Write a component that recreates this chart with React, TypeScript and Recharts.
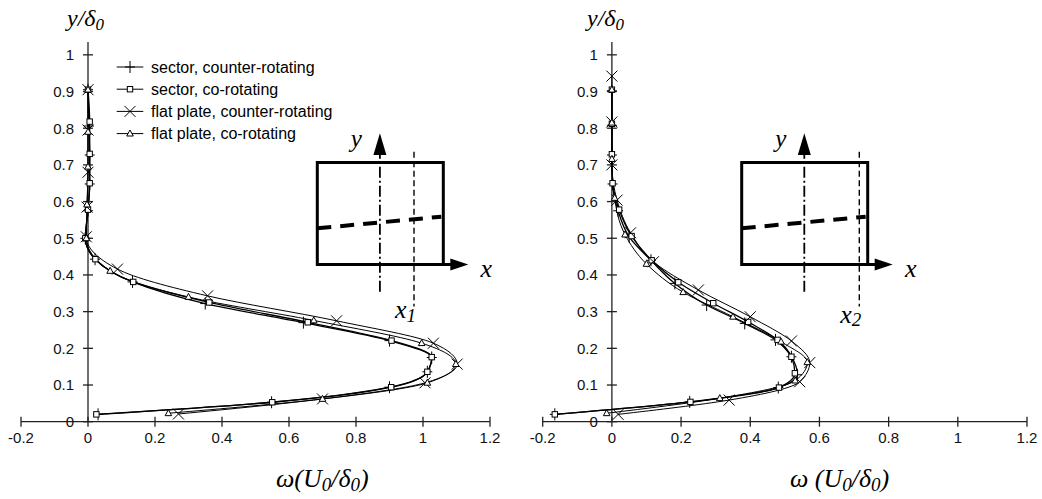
import React from "react";
import { LineChart, Line, XAxis, YAxis, ReferenceLine, ReferenceDot, Legend } from "recharts";

type Pt = { x: number; y: number };
type MarkerKind = "plus" | "square" | "cross" | "triangle";

const xTicks = [-0.2, 0, 0.2, 0.4, 0.6, 0.8, 1, 1.2];
const yTicks = [0, 0.1, 0.2, 0.3, 0.4, 0.5, 0.6, 0.7, 0.8, 0.9, 1];

const seriesNames = [
  "sector, counter-rotating",
  "sector, co-rotating",
  "flat plate, counter-rotating",
  "flat plate, co-rotating",
];
const seriesMarkers: MarkerKind[] = ["plus", "square", "cross", "triangle"];
const seriesWidths = [1.3, 1.3, 1, 1];

// station x1
const x1SectorCounter: Pt[] = [
  { x: 0.03, y: 0.02 }, { x: 0.548, y: 0.053 }, { x: 0.9, y: 0.094 }, { x: 1.013, y: 0.136 },
  { x: 1.026, y: 0.175 }, { x: 0.9, y: 0.221 }, { x: 0.643, y: 0.27 }, { x: 0.35, y: 0.322 },
  { x: 0.133, y: 0.381 }, { x: 0.021, y: 0.443 }, { x: -0.008, y: 0.5 }, { x: 0.0, y: 0.575 },
  { x: 0.005, y: 0.648 }, { x: 0.005, y: 0.727 }, { x: 0.003, y: 0.806 }, { x: 0.0, y: 0.905 },
];
const x1SectorCo: Pt[] = [
  { x: 0.025, y: 0.02 }, { x: 0.55, y: 0.053 }, { x: 0.905, y: 0.094 }, { x: 1.013, y: 0.136 },
  { x: 1.026, y: 0.176 }, { x: 0.906, y: 0.221 }, { x: 0.656, y: 0.271 }, { x: 0.362, y: 0.325 },
  { x: 0.135, y: 0.381 }, { x: 0.022, y: 0.443 }, { x: -0.008, y: 0.5 }, { x: 0.0, y: 0.578 },
  { x: 0.005, y: 0.65 }, { x: 0.005, y: 0.73 }, { x: 0.005, y: 0.818 }, { x: 0.0, y: 0.905 },
];
const x1FlatCounter: Pt[] = [
  { x: 0.27, y: 0.021 }, { x: 0.7, y: 0.062 }, { x: 1.006, y: 0.106 }, { x: 1.102, y: 0.157 },
  { x: 1.031, y: 0.214 }, { x: 0.742, y: 0.275 }, { x: 0.357, y: 0.343 }, { x: 0.088, y: 0.416 },
  { x: -0.005, y: 0.504 }, { x: -0.003, y: 0.585 }, { x: 0.0, y: 0.68 }, { x: 0.0, y: 0.795 },
  { x: 0.0, y: 0.905 },
];
const x1FlatCo: Pt[] = [
  { x: 0.24, y: 0.023 }, { x: 0.7, y: 0.062 }, { x: 1.013, y: 0.106 }, { x: 1.098, y: 0.157 },
  { x: 0.996, y: 0.214 }, { x: 0.674, y: 0.276 }, { x: 0.3, y: 0.34 }, { x: 0.066, y: 0.411 },
  { x: -0.005, y: 0.5 }, { x: -0.003, y: 0.592 }, { x: 0.0, y: 0.695 }, { x: 0.0, y: 0.79 },
  { x: 0.0, y: 0.905 },
];

// station x2
const x2SectorCounter: Pt[] = [
  { x: -0.165, y: 0.02 }, { x: 0.225, y: 0.054 }, { x: 0.481, y: 0.093 }, { x: 0.536, y: 0.128 },
  { x: 0.519, y: 0.177 }, { x: 0.473, y: 0.223 }, { x: 0.384, y: 0.268 }, { x: 0.274, y: 0.318 },
  { x: 0.182, y: 0.377 }, { x: 0.113, y: 0.44 }, { x: 0.05, y: 0.504 }, { x: 0.018, y: 0.575 },
  { x: 0.002, y: 0.648 }, { x: 0.0, y: 0.727 }, { x: 0.0, y: 0.808 }, { x: 0.0, y: 0.902 },
];
const x2SectorCo: Pt[] = [
  { x: -0.165, y: 0.02 }, { x: 0.227, y: 0.054 }, { x: 0.483, y: 0.093 }, { x: 0.529, y: 0.132 },
  { x: 0.519, y: 0.177 }, { x: 0.479, y: 0.223 }, { x: 0.394, y: 0.272 }, { x: 0.293, y: 0.323 },
  { x: 0.192, y: 0.38 }, { x: 0.115, y: 0.44 }, { x: 0.057, y: 0.506 }, { x: 0.021, y: 0.578 },
  { x: 0.002, y: 0.65 }, { x: 0.0, y: 0.729 }, { x: 0.0, y: 0.812 }, { x: 0.0, y: 0.905 },
];
const x2FlatCounter: Pt[] = [
  { x: 0.018, y: 0.02 }, { x: 0.339, y: 0.059 }, { x: 0.543, y: 0.109 }, { x: 0.572, y: 0.161 },
  { x: 0.519, y: 0.22 }, { x: 0.4, y: 0.286 }, { x: 0.25, y: 0.359 }, { x: 0.12, y: 0.436 },
  { x: 0.054, y: 0.515 }, { x: 0.015, y: 0.604 }, { x: 0.0, y: 0.7 }, { x: 0.0, y: 0.817 },
  { x: 0.0, y: 0.942 },
];
const x2FlatCo: Pt[] = [
  { x: -0.015, y: 0.023 }, { x: 0.312, y: 0.064 }, { x: 0.53, y: 0.112 }, { x: 0.565, y: 0.162 },
  { x: 0.489, y: 0.218 }, { x: 0.35, y: 0.286 }, { x: 0.206, y: 0.353 }, { x: 0.1, y: 0.43 },
  { x: 0.038, y: 0.51 }, { x: 0.008, y: 0.61 }, { x: 0.0, y: 0.716 }, { x: 0.0, y: 0.815 },
  { x: 0.0, y: 0.905 },
];

const AXIS = "#222";
const SANS = "'Liberation Sans', Arial, sans-serif";
const SERIF = "'Liberation Serif', 'Times New Roman', serif";

const fmt = (v: number) => String(Math.round(v * 10) / 10);

function Marker({ kind, cx, cy }: { kind: MarkerKind; cx: number; cy: number }) {
  if (kind === "plus")
    return <path d={`M${cx - 5},${cy}H${cx + 5}M${cx},${cy - 6}V${cy + 6}`} stroke="#000" strokeWidth={1} fill="none" />;
  if (kind === "square")
    return <rect x={cx - 2.7} y={cy - 2.7} width={5.4} height={5.4} fill="#fff" stroke="#000" strokeWidth={1} />;
  if (kind === "cross")
    return (
      <path
        d={`M${cx - 5.5},${cy - 5.5}L${cx + 5.5},${cy + 5.5}M${cx - 5.5},${cy + 5.5}L${cx + 5.5},${cy - 5.5}`}
        stroke="#000"
        strokeWidth={1}
        fill="none"
      />
    );
  return (
    <path d={`M${cx},${cy - 3.6}L${cx + 3.3},${cy + 2.4}L${cx - 3.3},${cy + 2.4}Z`} fill="#fff" stroke="#000" strokeWidth={1} />
  );
}

const XTick = (p: any) => (
  <g>
    <line x1={p.x} x2={p.x} y1={p.y - 5} y2={p.y + 5} stroke={AXIS} strokeWidth={1.3} />
    <text x={p.x} y={p.y + 21.5} textAnchor="middle" fontSize={15} fontFamily={SANS} fill="#111">
      {fmt(p.payload.value)}
    </text>
  </g>
);

const LegendBox = () => (
  <svg width={230} height={92} style={{ display: "block" }}>
    {seriesNames.map((name, i) => {
      const cy = 11 + i * 22.2;
      return (
        <g key={name}>
          <line x1={0.7} x2={27.3} y1={cy} y2={cy} stroke="#000" strokeWidth={1} />
          <Marker kind={seriesMarkers[i]} cx={14} cy={cy} />
          <text x={35} y={cy} dy="0.35em" fontSize={16} fontFamily={SANS} fill="#000">
            {name}
          </text>
        </g>
      );
    })}
  </svg>
);

type PanelProps = {
  left: number;
  width: number;
  margin: { top: number; right: number; bottom: number; left: number };
  data: Pt[][];
  legend?: boolean;
};

function Panel({ left, width, margin, data, legend }: PanelProps) {
  return (
    <div style={{ position: "absolute", left, top: 0 }}>
      <LineChart layout="vertical" width={width} height={499} margin={margin}>
        <XAxis
          type="number"
          domain={[-0.2, 1.2]}
          ticks={xTicks}
          interval={0}
          allowDataOverflow
          height={30}
          axisLine={{ stroke: AXIS, strokeWidth: 1.3 }}
          tickLine={false}
          tickSize={0}
          tickMargin={0}
          tick={XTick}
        />
        <YAxis type="number" dataKey="y" domain={[0, 1.035]} allowDataOverflow reversed hide />
        <ReferenceLine x={0} stroke={AXIS} strokeWidth={1.3} ifOverflow="visible" />
        {yTicks.map((v) => (
          <ReferenceDot
            key={v}
            x={0}
            y={v}
            r={0}
            ifOverflow="visible"
            shape={(p: any) => (
              <g>
                <line x1={p.cx - 5} x2={p.cx + 5} y1={p.cy} y2={p.cy} stroke={AXIS} strokeWidth={1.3} />
                <text x={p.cx - 14} y={p.cy} dy="0.36em" textAnchor="end" fontSize={15} fontFamily={SANS} fill="#111">
                  {fmt(v)}
                </text>
              </g>
            )}
          />
        ))}
        {data.map((pts, i) => (
          <Line
            key={seriesNames[i]}
            name={seriesNames[i]}
            data={pts}
            dataKey="x"
            type="monotone"
            stroke="#000"
            strokeWidth={seriesWidths[i]}
            isAnimationActive={false}
            dot={(p: any) => (
              <g key={`m-${i}-${p.index}`}>
                <Marker kind={seriesMarkers[i]} cx={p.cx} cy={p.cy} />
              </g>
            )}
            activeDot={false}
          />
        ))}
        {legend && (
          <Legend
            layout="vertical"
            align="center"
            verticalAlign="middle"
            wrapperStyle={{ left: 116, top: 55.7, width: 230 }}
            content={() => <LegendBox />}
          />
        )}
      </LineChart>
    </div>
  );
}

// schematic of the plate with the measuring station
function Inset({ left, cut, sub, subBase }: { left: number; cut: number; sub: string; subBase: number }) {
  const top = 162.5;
  const bottom = 264.5;
  const right = left + 126;
  const ax = left + 62.6;
  return (
    <g>
      <rect x={left} y={top} width={right - left} height={bottom - top} fill="none" stroke="#000" strokeWidth={3} />
      <line x1={right} x2={right + 9} y1={bottom} y2={bottom} stroke="#000" strokeWidth={3} />
      <path d={`M${right + 7},${bottom - 6}L${right + 25},${bottom}L${right + 7},${bottom + 6}Z`} fill="#000" />
      <line x1={ax} x2={ax} y1={291.7} y2={154} stroke="#000" strokeWidth={1.8} strokeDasharray="11 3 2 3" />
      <path d={`M${ax - 6.5},${155}L${ax},${133.3}L${ax + 6.5},${155}Z`} fill="#000" />
      <line x1={cut} x2={cut} y1={151.7} y2={306.5} stroke="#000" strokeWidth={1.4} strokeDasharray="6 3.5" />
      <line x1={left} x2={right - 2} y1={228.3} y2={216.7} stroke="#000" strokeWidth={4} strokeDasharray="14 9" />
      <text x={left + 39} y={147} textAnchor="middle" fontSize={25} fontStyle="italic" fontFamily={SERIF}>
        y
      </text>
      <text x={right + 43} y={276.5} textAnchor="middle" fontSize={26} fontStyle="italic" fontFamily={SERIF}>
        x
      </text>
      <text x={cut - 19} y={subBase} fontSize={26} fontStyle="italic" fontFamily={SERIF}>
        x
        <tspan fontSize={19} dy={3.5}>
          {sub}
        </tspan>
      </text>
    </g>
  );
}

function Titles({ ax, bx, space }: { ax: number; bx: number; space: boolean }) {
  return (
    <g fontFamily={SERIF} fontStyle="italic" fill="#000">
      <text x={ax} y={26} fontSize={24}>
        y/δ
        <tspan fontSize={17} dy={4}>0</tspan>
      </text>
      <text x={bx} y={487} fontSize={26}>
        {space ? "ω (U" : "ω(U"}
        <tspan fontSize={19} dy={4}>0</tspan>
        <tspan dy={-4}>/δ</tspan>
        <tspan fontSize={19} dy={4}>0</tspan>
        <tspan dy={-4}>)</tspan>
      </text>
    </g>
  );
}

export default function App() {
  return (
    <div
      style={{
        position: "absolute",
        left: 0,
        top: 0,
        width: 1042,
        height: 499,
        background: "#fff",
        overflow: "hidden",
        fontFamily: SANS,
      }}
    >
      <Panel
        left={0}
        width={520}
        margin={{ top: 42, right: 30, bottom: 47.3, left: 21 }}
        data={[x1SectorCounter, x1SectorCo, x1FlatCounter, x1FlatCo]}
        legend
      />
      <Panel
        left={520}
        width={522}
        margin={{ top: 42, right: 15, bottom: 47.3, left: 22.7 }}
        data={[x2SectorCounter, x2SectorCo, x2FlatCounter, x2FlatCo]}
      />
      <svg
        width={1042}
        height={499}
        style={{ position: "absolute", left: 0, top: 0, pointerEvents: "none" }}
      >
        <Inset left={317.3} cut={414} sub="1" subBase={318.3} />
        <Inset left={741.7} cut={859.3} sub="2" subBase={322.7} />
        <Titles ax={67} bx={276} space={false} />
        <Titles ax={587} bx={790} space />
      </svg>
    </div>
  );
}
